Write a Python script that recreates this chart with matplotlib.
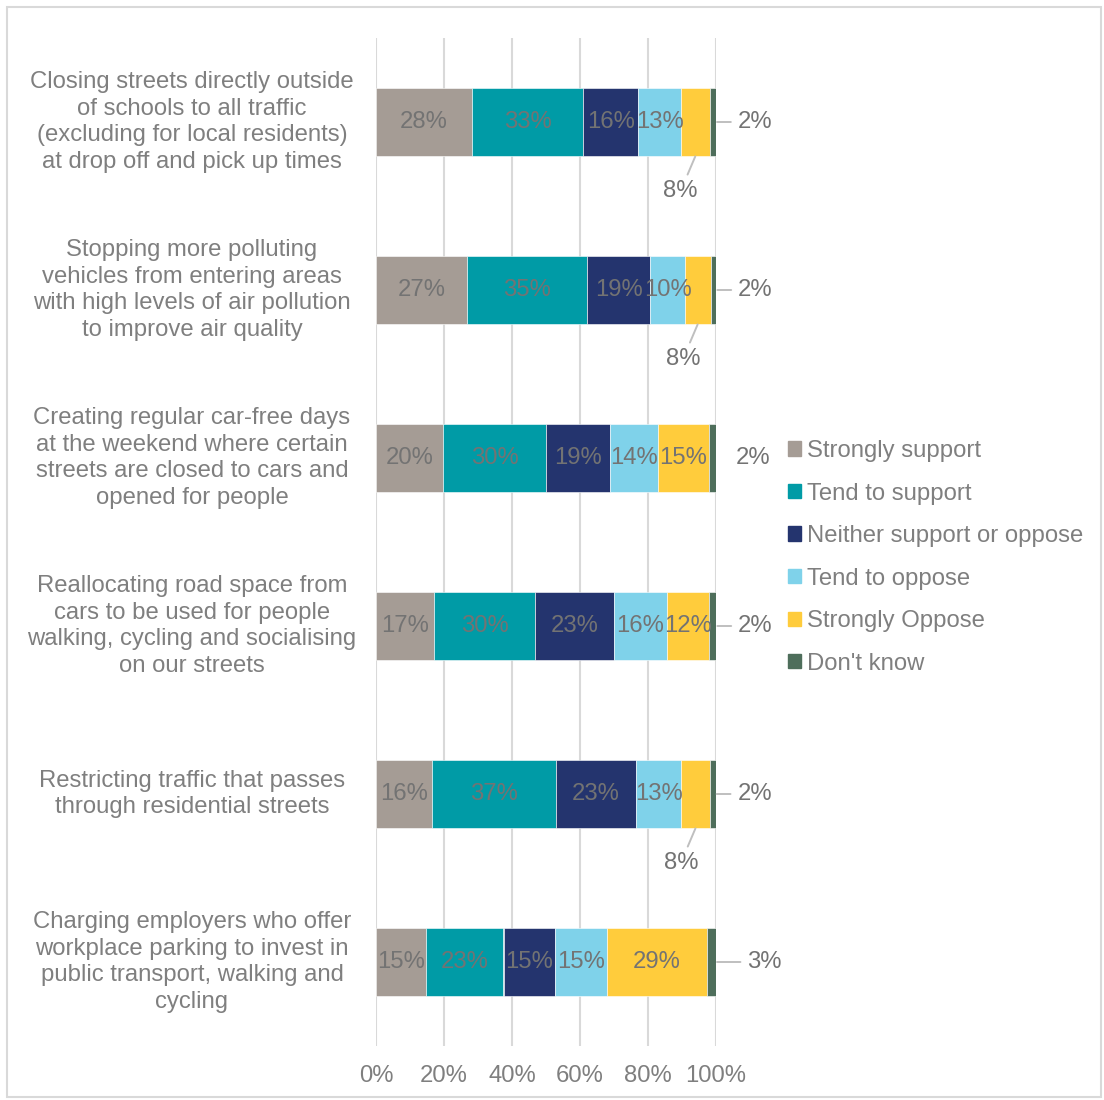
import matplotlib.pyplot as plt
import matplotlib.patches as mpatches
import numpy as np

plt.rcParams['font.family'] = ['Liberation Sans', 'DejaVu Sans']

# ---- data -------------------------------------------------------------
questions = [
    "Closing streets directly outside\nof schools to all traffic\n(excluding for local residents)\nat drop off and pick up times",
    "Stopping more polluting\nvehicles from entering areas\nwith high levels of air pollution\nto improve air quality",
    "Creating regular car-free days\nat the weekend where certain\nstreets are closed to cars and\nopened for people",
    "Reallocating road space from\ncars to be used for people\nwalking, cycling and socialising\non our streets",
    "Restricting traffic that passes\nthrough residential streets",
    "Charging employers who offer\nworkplace parking to invest in\npublic transport, walking and\ncycling",
]
responses = ["Strongly support", "Tend to support", "Neither support or oppose",
             "Tend to oppose", "Strongly Oppose", "Don't know"]
strongly_support = [28.2, 26.8, 19.8, 17.1, 16.4, 14.6]
tend_support     = [32.7, 35.3, 30.3, 29.7, 36.6, 22.9]
neither          = [16.2, 18.6, 18.8, 23.1, 23.4, 15.2]
tend_oppose      = [12.6, 10.1, 13.9, 15.8, 13.4, 15.3]
strongly_oppose  = [8.4, 7.6, 15.1, 12.3, 8.3, 29.4]
dont_know        = [1.9, 1.7, 2.1, 2.1, 1.8, 2.6]
ticks = [0, 20, 40, 60, 80, 100]

series = [strongly_support, tend_support, neither, tend_oppose,
          strongly_oppose, dont_know]
colors = ["#A59C95", "#009BA6", "#24346E", "#7FD2EA", "#FFCC3C", "#4E6E5B"]

# which "Strongly Oppose" labels sit below the bar (too narrow inside)
oppose_below = [True, True, False, False, True, False]
dk_leader = [True, True, False, True, True, True]

LBL = "#7f7f7f"
DLBL = "#737373"
FS = 17.2

fig = plt.figure(figsize=(11.04, 11.0), dpi=100)
ax = fig.add_axes([376 / 1104, 1 - 1046 / 1100, 340 / 1104, (1046 - 38) / 1100])

# outer frame
fig.patches.append(mpatches.Rectangle((7 / 1104, 3 / 1100), 1094 / 1104, 1090 / 1100,
                                      transform=fig.transFigure, fill=False,
                                      edgecolor="#d9d9d9", linewidth=1.5))

y = np.arange(len(questions))
left = np.zeros(len(questions))
for vals, col, name in zip(series, colors, responses):
    vals = np.asarray(vals)
    ax.barh(y, vals, left=left, height=0.405, color=col, label=name,
            edgecolor="white", linewidth=0.4, zorder=3)
    left = left + vals

# data labels
line_kw = dict(arrowstyle="-", color="#bfbfbf", lw=1.4, shrinkB=0)
for i in range(len(questions)):
    acc = 0.0
    for k, vals in enumerate(series):
        v = vals[i]
        txt = f"{round(v):d}%"
        mid = acc + v / 2
        if k == 5:
            if dk_leader[i]:
                ax.annotate(txt, xy=(acc + v + 0.3, y[i]),
                            xytext=(acc + v + 11.5 + (2.8 if i == 5 else 0), y[i]),
                            ha="center", va="center", fontsize=FS, color=DLBL,
                            arrowprops=dict(shrinkA=3, **line_kw),
                            annotation_clip=False)
            else:
                ax.text(acc + v + 11.0, y[i], txt, ha="center", va="center",
                        fontsize=FS, color=DLBL, clip_on=False)
        elif k == 4 and oppose_below[i]:
            ax.annotate(txt, xy=(mid, y[i] + 0.205), xytext=(mid - 4.3, y[i] + 0.41),
                        ha="center", va="center", fontsize=FS, color=DLBL,
                        arrowprops=dict(shrinkA=2, **line_kw),
                        annotation_clip=False)
        else:
            ax.text(mid, y[i], txt, ha="center", va="center", fontsize=FS,
                    color=DLBL, zorder=4)
        acc += v

# category labels
for i, q in enumerate(questions):
    ax.text(-184 / 340, y[i], q, transform=ax.get_yaxis_transform(),
            ha="center", va="center", multialignment="center",
            fontsize=FS, color=LBL, linespacing=1.27)

ax.set_xlim(0, 100)
ax.set_ylim(len(questions) - 0.5, -0.5)
ax.set_xticks(ticks)
ax.set_xticklabels([f"{t}%" for t in ticks], fontsize=FS, color=LBL)
ax.set_yticks([])
ax.tick_params(axis="x", length=0, pad=14)
ax.grid(axis="x", color="#d9d9d9", linewidth=1.5, zorder=0)
for s in ax.spines.values():
    s.set_visible(False)

handles = [mpatches.Patch(color=c, label=n) for c, n in zip(colors, responses)]
fig.legend(handles=handles, loc="upper left",
           bbox_to_anchor=(788 / 1104, 1 - 440 / 1100), frameon=False,
           fontsize=FS, labelcolor=LBL, handlelength=0.55, handleheight=0.55,
           handletextpad=0.25, labelspacing=0.86, borderpad=0, borderaxespad=0)

fig.savefig("out.png", dpi=100)
